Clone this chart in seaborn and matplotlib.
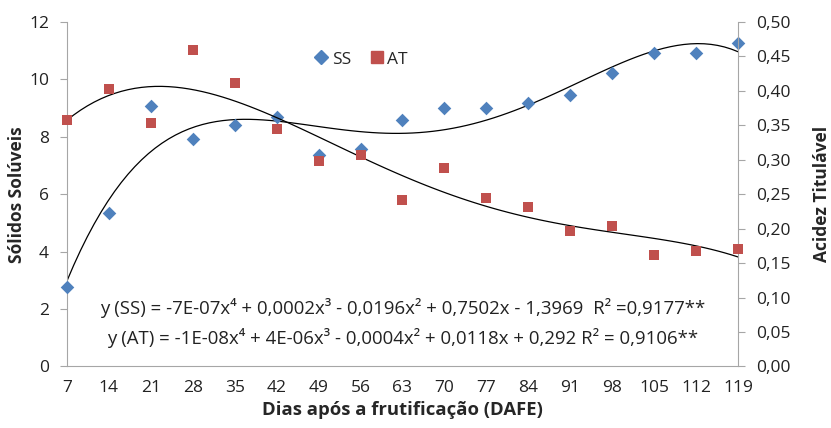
import numpy as np
import pandas as pd
import matplotlib
matplotlib.use("Agg")
import matplotlib.pyplot as plt
from matplotlib.ticker import FuncFormatter
import seaborn as sns

# dados
dias = [7, 14, 21, 28, 35, 42, 49, 56, 63, 70, 77, 84, 91, 98, 105, 112, 119]
ss = [2.76, 5.34, 9.08, 7.93, 8.41, 8.70, 7.36, 7.56, 8.58, 8.99, 9.00, 9.18, 9.47, 10.23, 10.93, 10.93, 11.28]
at = [0.357, 0.403, 0.353, 0.460, 0.411, 0.345, 0.298, 0.307, 0.241, 0.288, 0.244, 0.231, 0.197, 0.204, 0.162, 0.168, 0.171]

eq_ss = "y (SS) = -7E-07x⁴ + 0,0002x³ - 0,0196x² + 0,7502x - 1,3969  R² =0,9177**"
eq_at = "y (AT) = -1E-08x⁴ + 4E-06x³ - 0,0004x² + 0,0118x + 0,292 R² = 0,9106**"

df = pd.DataFrame({"dias": dias, "SS": ss, "AT": at})

sns.set_style("white")
plt.rcParams["font.family"] = ["Open Sans", "DejaVu Sans"]

azul = "#4F81BD"
vermelho = "#C0504D"
cinza = "#A6A6A6"

fig = plt.figure(figsize=(8.31, 4.28), dpi=100)
ax = fig.add_axes([0.0806, 0.1437, 0.8075, 0.805])
ax2 = ax.twinx()

# linhas de tendência polinomiais (ordem 4)
sns.regplot(data=df, x="dias", y="SS", order=4, ci=None, scatter=False, truncate=True,
            ax=ax, line_kws={"color": "black", "lw": 0.9})
sns.regplot(data=df, x="dias", y="AT", order=4, ci=None, scatter=False, truncate=True,
            ax=ax2, line_kws={"color": "black", "lw": 0.9})

sns.scatterplot(data=df, x="dias", y="SS", marker="D", s=48, color=azul, edgecolor=azul,
                linewidth=0, ax=ax, clip_on=False, zorder=5, label="SS", legend=False)
sns.scatterplot(data=df, x="dias", y="AT", marker="s", s=62, color=vermelho, edgecolor=vermelho,
                linewidth=0, ax=ax2, clip_on=False, zorder=5, label="AT", legend=False)

ax.set_xlim(7, 119)
ax.set_ylim(0, 12)
ax2.set_ylim(0, 0.5)
ax.set_xticks(dias)
ax.set_yticks(range(0, 13, 2))
ax2.set_yticks(np.arange(0, 0.51, 0.05))
ax2.yaxis.set_major_formatter(FuncFormatter(lambda v, p: f"{v:.2f}".replace(".", ",")))

for a in (ax, ax2):
    for s in a.spines.values():
        s.set_color(cinza)
    a.spines["top"].set_visible(False)
    a.tick_params(axis="both", which="both", length=5, width=0.8, color=cinza,
                  labelsize=12.5, labelcolor="#222222", direction="out")
ax.spines["right"].set_visible(False)
ax2.spines["left"].set_visible(False)
ax2.spines["bottom"].set_visible(False)
ax.tick_params(axis="y", pad=8)
ax2.tick_params(axis="y", pad=8)
ax.tick_params(axis="x", pad=5)

ax.set_xlabel("Dias após a frutificação (DAFE)", fontsize=13.3, fontweight="bold", labelpad=3)
ax.set_ylabel("Sólidos Solúveis", fontsize=12.5, fontweight="bold", labelpad=2)
ax2.set_ylabel("Acidez Titulável", fontsize=12.5, fontweight="bold", labelpad=16)

# legenda
h1 = plt.Line2D([], [], marker="D", color=azul, ls="", markersize=7)
h2 = plt.Line2D([], [], marker="s", color=vermelho, ls="", markersize=9)
ax2.legend([h1, h2], ["SS", "AT"], loc="upper left", bbox_to_anchor=(0.34, 0.96), ncol=2,
           frameon=False, fontsize=12.5, handletextpad=0.0, columnspacing=0.9, handlelength=1.2)

ax.text(0.5, 0.169, eq_ss, transform=ax.transAxes, ha="center", va="center", fontsize=13.4, color="#222222")
ax.text(0.5, 0.083, eq_at, transform=ax.transAxes, ha="center", va="center", fontsize=13.4, color="#222222")

fig.savefig("out.png", dpi=100)
